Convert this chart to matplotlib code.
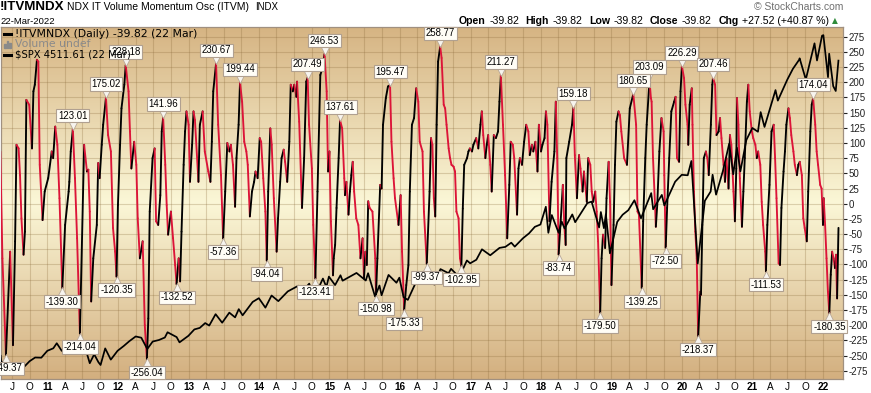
import numpy as np
import pandas as pd
import matplotlib
matplotlib.use("Agg")
import matplotlib.pyplot as plt
import matplotlib.dates as mdates
import matplotlib.transforms as mtransforms
from matplotlib.collections import LineCollection
from matplotlib.lines import Line2D
from matplotlib.patches import Rectangle

plt.rcParams['axes.unicode_minus'] = False
plt.rcParams['font.family'] = ['Liberation Sans', 'DejaVu Sans']

# ---------------- data ----------------
# ITVM oscillator turning points (decimal years) and values
osc_dates = [
    2010.33, 2010.36, 2010.41, 2010.47, 2010.51, 2010.54, 2010.56, 2010.59, 2010.61, 2010.63, 2010.66,
    2010.68, 2010.70, 2010.74, 2010.78, 2010.80, 2010.82, 2010.85, 2010.87, 2010.89, 2010.93, 2010.96,
    2011.01, 2011.06, 2011.08, 2011.11, 2011.14, 2011.17, 2011.21, 2011.25, 2011.30, 2011.31, 2011.33,
    2011.36, 2011.39, 2011.42, 2011.46, 2011.52, 2011.56, 2011.58, 2011.60, 2011.62, 2011.65, 2011.70,
    2011.72, 2011.74, 2011.77, 2011.79, 2011.83, 2011.86, 2011.90, 2011.93, 2011.96, 2011.98,
    2012.00, 2012.03, 2012.05, 2012.09, 2012.11, 2012.15, 2012.17, 2012.19, 2012.23, 2012.26, 2012.28,
    2012.31, 2012.35, 2012.38, 2012.41, 2012.43, 2012.45, 2012.49, 2012.52, 2012.54, 2012.57, 2012.60,
    2012.62, 2012.64, 2012.67, 2012.69, 2012.71, 2012.75, 2012.78, 2012.81, 2012.83, 2012.86, 2012.88,
    2012.90, 2012.93, 2012.95, 2012.97,
    2013.00, 2013.02, 2013.05, 2013.07, 2013.09, 2013.14, 2013.16, 2013.20, 2013.23, 2013.28, 2013.31,
    2013.33, 2013.35, 2013.39, 2013.42, 2013.46, 2013.49, 2013.52, 2013.55, 2013.58, 2013.60, 2013.63,
    2013.66, 2013.68, 2013.71, 2013.73, 2013.76, 2013.79, 2013.82, 2013.84, 2013.87, 2013.90, 2013.93,
    2013.95, 2013.98,
    2014.01, 2014.03, 2014.06, 2014.09, 2014.11, 2014.13, 2014.16, 2014.18, 2014.21, 2014.25, 2014.27,
    2014.30, 2014.32, 2014.35, 2014.37, 2014.40, 2014.43, 2014.45, 2014.48, 2014.50, 2014.53, 2014.54,
    2014.57, 2014.61, 2014.64, 2014.67, 2014.69, 2014.71, 2014.75, 2014.77, 2014.80, 2014.83, 2014.87,
    2014.90, 2014.93, 2014.96, 2014.98,
    2015.00, 2015.02, 2015.05, 2015.06, 2015.08, 2015.10, 2015.13, 2015.15, 2015.18, 2015.21, 2015.22,
    2015.24, 2015.27, 2015.29, 2015.31, 2015.33, 2015.35, 2015.38, 2015.41, 2015.44, 2015.47, 2015.49,
    2015.51, 2015.53, 2015.55, 2015.57, 2015.61, 2015.65, 2015.66, 2015.68, 2015.72, 2015.74, 2015.76,
    2015.80, 2015.83, 2015.86, 2015.88, 2015.91, 2015.93, 2015.98,
    2016.01, 2016.03, 2016.06, 2016.09, 2016.12, 2016.14, 2016.17, 2016.20, 2016.23, 2016.26, 2016.28,
    2016.32, 2016.34, 2016.38, 2016.42, 2016.44, 2016.46, 2016.48, 2016.50, 2016.52, 2016.54, 2016.57,
    2016.59, 2016.62, 2016.64, 2016.66, 2016.69, 2016.71, 2016.73, 2016.76, 2016.78, 2016.80, 2016.83,
    2016.85, 2016.87, 2016.89, 2016.91, 2016.95, 2016.97, 2016.99,
    2017.02, 2017.04, 2017.08, 2017.11, 2017.14, 2017.16, 2017.18, 2017.21, 2017.23, 2017.25, 2017.28,
    2017.30, 2017.33, 2017.36, 2017.39, 2017.41, 2017.43, 2017.46, 2017.49, 2017.52, 2017.55, 2017.57,
    2017.60, 2017.62, 2017.66, 2017.68, 2017.70, 2017.73, 2017.76, 2017.79, 2017.82, 2017.84, 2017.87,
    2017.89, 2017.92, 2017.95, 2017.97,
    2018.00, 2018.02, 2018.05, 2018.07, 2018.09, 2018.12, 2018.15, 2018.19, 2018.21, 2018.23, 2018.25,
    2018.27, 2018.31, 2018.33, 2018.35, 2018.36, 2018.40, 2018.44, 2018.46, 2018.48, 2018.51, 2018.54,
    2018.56, 2018.59, 2018.61, 2018.65, 2018.67, 2018.70, 2018.72, 2018.74, 2018.77, 2018.79, 2018.81,
    2018.84, 2018.86, 2018.88, 2018.91, 2018.93, 2018.96, 2018.98,
    2019.00, 2019.03, 2019.05, 2019.07, 2019.10, 2019.12, 2019.14, 2019.18, 2019.22, 2019.26, 2019.31,
    2019.35, 2019.37, 2019.39, 2019.43, 2019.45, 2019.48, 2019.50, 2019.54, 2019.56, 2019.57, 2019.59,
    2019.62, 2019.63, 2019.65, 2019.68, 2019.71, 2019.74, 2019.75, 2019.77, 2019.79, 2019.82, 2019.85,
    2019.89, 2019.91, 2019.93, 2019.96, 2019.98,
    2020.00, 2020.03, 2020.05, 2020.08, 2020.09, 2020.11, 2020.14, 2020.15, 2020.17, 2020.19, 2020.21,
    2020.23, 2020.26, 2020.27, 2020.29, 2020.31, 2020.34, 2020.36, 2020.38, 2020.41, 2020.43, 2020.44,
    2020.47, 2020.49, 2020.52, 2020.54, 2020.56, 2020.59, 2020.61, 2020.63, 2020.66, 2020.68, 2020.70,
    2020.73, 2020.75, 2020.77, 2020.78, 2020.80, 2020.82, 2020.85, 2020.87, 2020.89, 2020.92, 2020.94,
    2020.96, 2020.99,
    2021.01, 2021.04, 2021.06, 2021.08, 2021.11, 2021.13, 2021.15, 2021.18, 2021.19, 2021.21, 2021.24,
    2021.27, 2021.30, 2021.32, 2021.34, 2021.37, 2021.39, 2021.41, 2021.44, 2021.46, 2021.48, 2021.51,
    2021.53, 2021.55, 2021.58, 2021.60, 2021.63, 2021.65, 2021.67, 2021.70, 2021.72, 2021.74, 2021.77,
    2021.79, 2021.82, 2021.84, 2021.86, 2021.89, 2021.91, 2021.93, 2021.96, 2021.98,
    2022.00, 2022.01, 2022.03, 2022.05, 2022.07, 2022.09, 2022.11, 2022.13, 2022.15, 2022.17, 2022.185,
    2022.20, 2022.22,
]
osc_values = [
    86, -90, -249.37, -79, -233, -62, 97, 91, 47, -24, -84,
    -46, 171, 163, 91, 185, 196, 237, 234, 64, -27, 20,
    42, 86, 75, 127, 97, 9, -139.30, -35, 20, 36, 86,
    123.01, 42, -57, -214.04, 97, 53, 56, -13, -161, -90, -35,
    67, 42, 97, 130, 175.02, 113, 86, -40, -79, -120.35,
    -2, 97, 157, 196, 228.18, 185, 119, 58, 102, 64, -24,
    -90, -62, -200, -256.04, -189, -13, 75, 91, -29, -35, 14,
    119, 141.96, 64, -2, -51, -13, -57, -101, -132.52, -90, -128,
    -46, 64, 119, 152,
    130, 36, 97, 152, 138, 36, 130, 152, 86, 53, 36,
    102, 185, 230.67, 130, 47, -57.36, 20, 100, 86, 97, 64,
    -5, 75, 130, 199.44, 168, 102, 86, 64, -21, 20, 36,
    53, 42,
    108, 102, 42, -13, -94.04, 20, 124, 97, 9, -79, -24,
    36, 75, 89, 69, 36, 102, 196, 185, 196, 176, 201,
    135, -7, 75, 201, 207.49, 130, 58, -35, -123.41, 20, 212,
    223, 246.53, 185, 53,
    86, -29, -118, -90, -68, -7, 75, 137.61, 124, 42, 14,
    36, -18, 20, 47, 69, 20, -24, -35, -90, -57, -123,
    -79, -101, 4, -7, -13, -90, -150.98, -90, 31, 25, 130,
    174, 193, 195.47, 102, 42, 9, -35,
    14, -79, -175.33, -134, -101, 20, 130, 141, 190, 168, 102,
    86, -13, -99.37, 20, 108, 97, 9, -21, 130, 234, 258.77,
    240, 163, 157, 130, 91, 75, 64, 61, 53, -13, -24,
    -90, -102.95, -8, 64, 75, 86, 91,
    86, 97, 108, 91, 130, 152, 113, 75, 97, 113, 64,
    20, 113, 108, 119, 168, 211.27, 130, 47, -57, 31, 102,
    97, 75, -18, 58, 75, 64, 102, 130, 119, 80, 97,
    86, 102, 53, 130,
    86, 97, 108, 152, 130, -29, 36, 86, 168, 75, -83.74,
    -46, 31, -35, -68, 75, 102, 130, 159.18, 80, 9, 80,
    58, 20, 53, 3, 75, 64, 20, 3, 20, -13, -62,
    -179.50, -90, -51, -73, 9, 69, 3,
    -134, -35, 64, 135, 152, 146, 119, 75, 64, 157, 180.65,
    130, -13, -18, -139.25, -29, 75, 130, 203.09, 174, 168, 75,
    -7, -38, -2, 86, 141, 119, 47, -72.50, -7, 75, 152,
    168, 176, 75, 69, 185,
    226.29, 207, 163, 130, 97, 163, 190, 130, 20, -46, -90,
    -218.37, -145, -150, -35, 75, 86, 75, 47, 130, 196, 207.46,
    196, 113, 119, 141, 108, 64, 36, 75, 25, 113, 97,
    20, -29, 58, 174, 130, 42, -38, 20, 75, 168, 196,
    152, 119,
    108, 97, 75, 86, 64, 3, -35, -79, -111.53, -35, 31,
    119, 130, 75, 9, -98, -101, -7, 53, 86, 130, 157,
    141, 113, 86, 64, 47, 64, 69, 47, -24, -40, -62,
    20, 119, 163, 174.04, 130, 86, 64, 31, 25,
    -35, 9, -35, -90, -145, -180.35, -117, -79, -90, -106, -84,
    -156, -39.82,
]

# labelled swing highs / lows
peak_labels = [123.01, 175.02, 228.18, 141.96, 230.67, 199.44, 207.49, 246.53, 137.61,
               195.47, 258.77, 211.27, 159.18, 180.65, 203.09, 226.29, 207.46, 174.04]
trough_labels = [-249.37, -139.30, -214.04, -120.35, -256.04, -132.52, -57.36, -94.04,
                 -123.41, -150.98, -175.33, -99.37, -102.95, -83.74, -179.50, -139.25,
                 -72.50, -218.37, -111.53, -180.35]

# S&P 500 overlay
spx_dates = [
    '2010-05-03', '2010-05-07', '2010-05-14', '2010-05-25', '2010-06-18', '2010-07-02', '2010-07-30',
    '2010-08-27', '2010-09-30', '2010-10-29', '2010-11-30', '2010-12-31',
    '2011-01-31', '2011-02-18', '2011-03-16', '2011-04-29', '2011-05-31', '2011-06-16', '2011-07-07',
    '2011-08-08', '2011-08-31', '2011-09-22', '2011-10-03', '2011-10-27', '2011-11-25', '2011-12-30',
    '2012-01-31', '2012-02-29', '2012-04-02', '2012-05-01', '2012-06-01', '2012-06-29', '2012-07-31',
    '2012-08-31', '2012-09-14', '2012-10-31', '2012-11-15', '2012-12-31',
    '2013-01-31', '2013-02-28', '2013-03-28', '2013-04-18', '2013-05-21', '2013-06-24', '2013-07-31',
    '2013-08-30', '2013-09-18', '2013-10-08', '2013-11-29', '2013-12-31',
    '2014-02-03', '2014-03-07', '2014-04-11', '2014-05-30', '2014-07-24', '2014-08-07', '2014-09-18',
    '2014-10-15', '2014-11-28', '2014-12-16', '2014-12-29',
    '2015-01-30', '2015-02-27', '2015-03-10', '2015-05-21', '2015-07-08', '2015-07-20', '2015-08-25',
    '2015-09-17', '2015-09-28', '2015-11-03', '2015-12-14', '2015-12-29',
    '2016-01-20', '2016-02-11', '2016-03-31', '2016-04-20', '2016-05-19', '2016-06-08', '2016-06-27',
    '2016-07-29', '2016-09-09', '2016-09-22', '2016-11-03', '2016-12-13', '2016-12-30',
    '2017-01-31', '2017-03-01', '2017-04-13', '2017-05-31', '2017-06-30', '2017-07-31', '2017-08-18',
    '2017-09-29', '2017-10-31', '2017-11-30', '2017-12-29',
    '2018-01-26', '2018-02-08', '2018-02-26', '2018-04-02', '2018-04-18', '2018-05-03', '2018-06-12',
    '2018-06-27', '2018-07-31', '2018-08-29', '2018-09-20', '2018-10-29', '2018-11-07', '2018-11-23',
    '2018-12-03', '2018-12-24',
    '2019-01-31', '2019-02-28', '2019-03-29', '2019-04-30', '2019-06-03', '2019-07-26', '2019-08-05',
    '2019-09-19', '2019-10-02', '2019-11-27', '2019-12-31',
    '2020-01-31', '2020-02-19', '2020-03-23', '2020-04-29', '2020-05-29', '2020-06-08', '2020-06-26',
    '2020-07-31', '2020-09-02', '2020-09-23', '2020-10-12', '2020-10-30', '2020-11-30', '2020-12-31',
    '2021-01-29', '2021-02-12', '2021-03-04', '2021-04-30', '2021-05-12', '2021-06-30', '2021-07-29',
    '2021-08-31', '2021-09-02', '2021-10-04', '2021-11-18', '2021-12-01', '2021-12-27',
    '2022-01-03', '2022-01-27', '2022-02-02', '2022-02-23', '2022-03-08', '2022-03-22',
]
spx_values = [
    1202, 1111, 1136, 1074, 1117, 1022, 1102,
    1065, 1141, 1183, 1181, 1258,
    1286, 1343, 1257, 1364, 1345, 1268, 1353,
    1119, 1219, 1130, 1099, 1285, 1159, 1258,
    1312, 1366, 1419, 1405, 1278, 1362, 1379,
    1407, 1466, 1412, 1353, 1426,
    1498, 1515, 1569, 1541, 1669, 1573, 1686,
    1633, 1725, 1656, 1806, 1848,
    1742, 1878, 1815, 1924, 1988, 1910, 2011,
    1862, 2068, 1973, 2090,
    1995, 2105, 2044, 2131, 2046, 2128, 1867,
    1990, 1881, 2109, 2021, 2078,
    1859, 1829, 2060, 2102, 2040, 2119, 2000,
    2174, 2128, 2177, 2085, 2271, 2239,
    2279, 2396, 2329, 2412, 2423, 2470, 2426,
    2519, 2575, 2648, 2674,
    2873, 2581, 2780, 2582, 2708, 2630, 2787,
    2700, 2816, 2914, 2931, 2641, 2814, 2633,
    2790, 2351,
    2704, 2784, 2834, 2946, 2744, 3026, 2845,
    3006, 2888, 3154, 3231,
    3226, 3386, 2237, 2940, 3044, 3232, 3009,
    3271, 3580, 3237, 3535, 3270, 3622, 3756,
    3714, 3934, 3768, 4181, 4063, 4298, 4419,
    4523, 4537, 4300, 4705, 4513, 4791,
    4797, 4326, 4589, 4225, 4171, 4511.61,
]

y_ticks = list(range(-275, 276, 25))
quarter_letters = {1: None, 4: 'A', 7: 'J', 10: 'O'}

title_sym = '!ITVMNDX'
title_name = 'NDX IT Volume Momentum Osc (ITVM)'
title_exch = 'INDX'
chart_date = '22-Mar-2022'
legend_osc = '!ITVMNDX (Daily) -39.82 (22 Mar)'
legend_vol = 'Volume undef'
legend_spx = '$SPX 4511.61 (22 Mar)'
ohlc_runs = [('Open', 'bold'), ('-39.82', 'normal'), ('High', 'bold'), ('-39.82', 'normal'),
             ('Low', 'bold'), ('-39.82', 'normal'), ('Close', 'bold'), ('-39.82', 'normal'),
             ('Chg', 'bold'), ('+27.52 (+40.87 %)', 'normal')]

# ---------------- helpers ----------------
W, H = 871, 393


def fx(x):
    return x / W


def fy(y):
    return 1 - y / H


def dec_to_dt(y):
    yr = int(np.floor(y))
    start = pd.Timestamp(yr, 1, 1)
    end = pd.Timestamp(yr + 1, 1, 1)
    return (start + (end - start) * (y - yr)).to_pydatetime()


osc_x = mdates.date2num([dec_to_dt(d) for d in osc_dates])
osc_y = np.array(osc_values, dtype=float)
spx_x = mdates.date2num(pd.to_datetime(spx_dates).to_pydatetime())

x_left = mdates.date2num(dec_to_dt(2010.340))
x_right = mdates.date2num(dec_to_dt(2022.284))

RED = '#dc1438'
fig = plt.figure(figsize=(W / 100, H / 100), dpi=100)
fig.patch.set_facecolor('white')
rect = [fx(1), fy(379), (843 - 1) / W, (379 - 27.3) / H]

# background gradient
bg = fig.add_axes(rect, zorder=-5)
stops = np.array([0.0, 0.5, 1.0])
cols = np.array([(214, 180, 131), (251, 247, 215), (211, 175, 127)]) / 255.0
t = np.linspace(0, 1, 300)
grad = np.stack([np.interp(t, stops, cols[:, k]) for k in range(3)], axis=1)[:, None, :]
bg.imshow(grad, aspect='auto', extent=[0, 1, 0, 1], origin='upper')
bg.set_axis_off()

ax = fig.add_axes(rect, zorder=0)
ax.patch.set_alpha(0)

# SPX overlay on its own scale (twin created first, then y ticks moved right)
ax2 = ax.twinx()

# oscillator colored by direction
pts = np.column_stack([osc_x, osc_y])
segs = np.stack([pts[:-1], pts[1:]], axis=1)
seg_cols = ['black' if b >= a else RED for a, b in zip(osc_y[:-1], osc_y[1:])]
lc = LineCollection(segs, colors=seg_cols, linewidths=1.35, capstyle='round', joinstyle='round', zorder=3)
ax.add_collection(lc)

ax.set_xlim(x_left, x_right)
ax.set_ylim(-288.7, 290.5)

# grid / ticks
quarters = pd.date_range('2010-07-01', '2022-01-01', freq='QS')
ax.set_xticks(mdates.date2num(quarters.to_pydatetime()))
xlabels = []
for q in quarters:
    lab = quarter_letters[q.month]
    xlabels.append(f"{q.year % 100:02d}" if lab is None else lab)
ax.set_xticklabels(xlabels)
for tl, lab in zip(ax.get_xticklabels(), xlabels):
    if lab.isdigit():
        tl.set_fontweight('bold')
ax.set_yticks(y_ticks)
ax.set_yticklabels([str(v) for v in y_ticks])
ax.yaxis.tick_right()
ax.tick_params(axis='x', length=0, pad=2.5, labelsize=7.2, colors='black')
ax.tick_params(axis='y', which='both', left=False, labelleft=False, right=True, labelright=True,
               length=3, width=0.8, pad=1.2, labelsize=7.0, colors='#222222', direction='out')
ax.grid(True, color='#8a6a3a', alpha=0.28, linewidth=0.8)
ax.set_axisbelow(True)
for sp in ax.spines.values():
    sp.set_color('#a09080')
    sp.set_linewidth(0.9)

ax2.plot(spx_x, spx_values, color='black', linewidth=1.25, zorder=4)
ax2.set_ylim(942, 4885)
ax2.set_xlim(x_left, x_right)
ax2.set_yticks([])
ax2.tick_params(axis='y', left=False, right=False, labelleft=False, labelright=False)
for sp in ax2.spines.values():
    sp.set_visible(False)

# swing labels
label_kw = dict(fontsize=6.9, ha='center', color='black', zorder=10,
                bbox=dict(boxstyle='square,pad=0.18', fc='#fffdf6', ec='#b0a090', lw=0.8))
for val in peak_labels:
    i = osc_values.index(val)
    xv, yv = osc_x[i], osc_y[i]
    ax2.annotate(f"{val:.2f}", xy=(xv, yv), xycoords=ax.transData, xytext=(0, 6.0),
                 textcoords='offset points', va='bottom', **label_kw)
    tr = mtransforms.offset_copy(ax.transData, fig=fig, y=3.2, units='dots')
    ax2.plot([xv], [yv], marker='v', ms=5.5, mfc='#f7f4ee', mec='#b8a898', mew=0.6,
             transform=tr, zorder=9, clip_on=False)
for val in trough_labels:
    i = osc_values.index(val)
    xv, yv = osc_x[i], osc_y[i]
    ax2.annotate(f"{val:.2f}", xy=(xv, yv), xycoords=ax.transData, xytext=(0, -6.0),
                 textcoords='offset points', va='top', **label_kw)
    tr = mtransforms.offset_copy(ax.transData, fig=fig, y=-3.2, units='dots')
    ax2.plot([xv], [yv], marker='^', ms=5.5, mfc='#f7f4ee', mec='#b8a898', mew=0.6,
             transform=tr, zorder=9, clip_on=False)

# legend inside plot
fig.add_artist(Line2D([fx(4), fx(11)], [fy(34), fy(34)], color='black', lw=2.2, zorder=20))
fig.text(fx(15), fy(34), legend_osc, fontsize=7.8, family=['DejaVu Sans'], va='center', ha='left', zorder=20)
for k, hh in enumerate([4, 7, 5]):
    fig.add_artist(Rectangle((fx(4 + 2.6 * k), fy(48)), 1.6 / W, hh / H, color='#8a8a8a', zorder=20))
fig.text(fx(15), fy(44.3), legend_vol, fontsize=7.8, family=['DejaVu Sans'], va='center', ha='left',
         color='#8a8a8a', zorder=20)
fig.add_artist(Line2D([fx(4), fx(11)], [fy(54.5), fy(54.5)], color='black', lw=2.2, zorder=20))
fig.text(fx(15), fy(54.5), legend_spx, fontsize=7.2, family=['DejaVu Sans'], va='center', ha='left', zorder=20)

# header
fig.text(fx(0), fy(7.5), title_sym, fontsize=9.6, fontweight='bold', va='center', ha='left')
fig.text(fx(67), fy(7.5), title_name, fontsize=7.5, va='center', ha='left')
fig.text(fx(255), fy(7.5), title_exch, fontsize=7.0, va='center', ha='left')
fig.text(fx(0), fy(22), chart_date, fontsize=6.8, va='center', ha='left')
fig.text(fx(843), fy(7.5), '\u00a9 StockCharts.com', fontsize=7.5, va='center', ha='right', color='#707070')

renderer = fig.canvas.get_renderer()
xpos = 459
for txt, wt in ohlc_runs:
    tt = fig.text(fx(xpos), fy(21.5), txt, fontsize=7.6, fontweight=wt, va='center', ha='left')
    bb = tt.get_window_extent(renderer)
    xpos = bb.x1 + (3.5 if wt == 'bold' else 6.5)
fig.text(fx(xpos - 3), fy(21.0), '\u25b2', fontsize=5.5, family=['DejaVu Sans'], va='center', ha='left',
         color='#2e8b3a')

fig.savefig('out.png', dpi=100)
